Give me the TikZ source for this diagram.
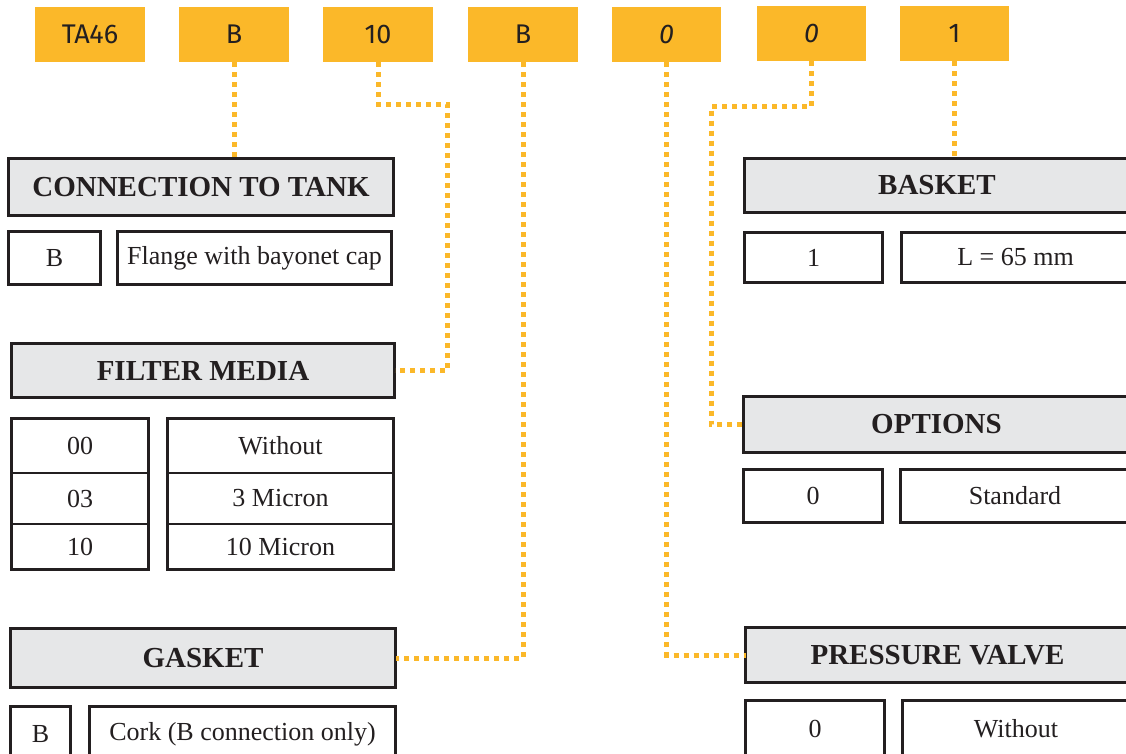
\documentclass[tikz,border=0pt]{standalone}
\usepackage{fontspec}
\setmainfont{Liberation Serif}
\newfontfamily\codefont{Fira Sans}
\definecolor{ylw}{HTML}{FBB829}
\definecolor{ink}{HTML}{231F20}
\definecolor{hdrgray}{HTML}{E6E7E8}
\tikzset{
  codebox/.style={fill=ylw, draw=none, anchor=north west, inner sep=0pt, outer sep=0pt,
    font=\codefont\fontsize{27}{27}\selectfont, text=ink},
  hdr/.style={fill=hdrgray, draw=ink, line width=3pt, anchor=north west, inner sep=0pt, outer sep=0pt,
    font=\bfseries\fontsize{29}{29}\selectfont, text=ink},
  cell/.style={fill=white, draw=ink, line width=3pt, anchor=north west, inner sep=0pt, outer sep=0pt,
    font=\fontsize{26}{26}\selectfont, text=ink},
  tcell/.style={draw=ink, line width=1.2pt, anchor=north west, inner sep=0pt, outer sep=0pt,
    font=\fontsize{26}{26}\selectfont, text=ink},
  frame/.style={draw=ink, line width=3pt, anchor=north west, inner sep=0pt, outer sep=0pt},
  conn/.style={draw=ylw, line width=5pt, dash pattern=on 5pt off 5pt}
}
\begin{document}
\begin{tikzpicture}[x=1pt,y=-1pt]
\clip (0,0) rectangle (1126,753);
\fill[white] (0,0) rectangle (1126,753);
% code boxes
\node[codebox, minimum width=110pt, minimum height=55pt] (cTA) at (35,7) {TA46};
\node[codebox, minimum width=110pt, minimum height=55pt] (cB1) at (179,7) {B};
\node[codebox, minimum width=110pt, minimum height=55pt] (c10) at (323,7) {10};
\node[codebox, minimum width=110pt, minimum height=55pt] (cB2) at (468,7) {B};
\node[codebox, minimum width=109pt, minimum height=55pt] (c0a) at (612,7) {\itshape 0};
\node[codebox, minimum width=109pt, minimum height=55pt] (c0b) at (757,6) {\itshape 0};
\node[codebox, minimum width=109pt, minimum height=55pt] (c1) at (900,6) {1};
% connection to tank
\node[hdr, minimum width=385pt, minimum height=57pt] (hTank) at (8.5,158.5) {CONNECTION TO TANK};
\node[cell, minimum width=92pt, minimum height=53pt] (tankK) at (8.5,231.5) {B};
\node[cell, minimum width=274pt, minimum height=53pt] (tankV) at (117.5,231.5) {Flange with bayonet cap};
% filter media
\node[hdr, minimum width=383pt, minimum height=54pt] (hFilter) at (11.5,343.5) {FILTER MEDIA};
\node[tcell, minimum width=137pt, minimum height=54.5pt] (fk1) at (11.5,418.5) {00};
\node[tcell, minimum width=137pt, minimum height=51pt] (fk2) at (11.5,473) {03};
\node[tcell, minimum width=137pt, minimum height=46pt] (fk3) at (11.5,524) {10};
\node[tcell, minimum width=226pt, minimum height=54.5pt] (fv1) at (167.5,418.5) {Without};
\node[tcell, minimum width=226pt, minimum height=51pt] (fv2) at (167.5,473) {3 Micron};
\node[tcell, minimum width=226pt, minimum height=46pt] (fv3) at (167.5,524) {10 Micron};
\node[frame, minimum width=137pt, minimum height=151pt] (fkF) at (11.5,418.5) {};
\node[frame, minimum width=226pt, minimum height=151pt] (fvF) at (167.5,418.5) {};
% gasket
\node[hdr, minimum width=385pt, minimum height=59pt] (hGasket) at (10.5,628.5) {GASKET};
\node[cell, minimum width=60pt, minimum height=55pt] (gK) at (10.5,706.5) {B};
\node[cell, minimum width=306pt, minimum height=55pt] (gV) at (89.5,706.5) {Cork (B connection only)};
% basket
\node[hdr, minimum width=385pt, minimum height=54pt] (hBasket) at (744.5,158.5) {BASKET};
\node[cell, minimum width=138pt, minimum height=50pt] (bK) at (744.5,232.5) {1};
\node[cell, minimum width=228pt, minimum height=50pt] (bV) at (901.5,232.5) {L = 65 mm};
% options
\node[hdr, minimum width=386pt, minimum height=56pt] (hOpt) at (743.5,396.5) {OPTIONS};
\node[cell, minimum width=139pt, minimum height=53pt] (oK) at (743.5,469.5) {0};
\node[cell, minimum width=229pt, minimum height=53pt] (oV) at (900.5,469.5) {Standard};
% pressure valve
\node[hdr, minimum width=384pt, minimum height=55pt] (hPress) at (745.5,627.5) {PRESSURE VALVE};
\node[cell, minimum width=139pt, minimum height=56pt] (pK) at (745.5,700.5) {0};
\node[cell, minimum width=227pt, minimum height=56pt] (pV) at (902.5,700.5) {Without};
% helper coordinates
\coordinate (t1) at (447,104);
\coordinate (t2) at (711,106);
% connectors
\draw[conn] (cB1.south) -- (cB1.south |- hTank.north);
\draw[conn] (c10.south) |- (t1) |- (hFilter.east);
\draw[conn] (cB2.south) |- (hGasket.east);
\draw[conn] (c0a.south) |- (hPress.west);
\draw[conn] (c0b.south) |- (t2) |- (hOpt.west);
\draw[conn] (c1.south) -- (c1.south |- hBasket.north);
\end{tikzpicture}
\end{document}
